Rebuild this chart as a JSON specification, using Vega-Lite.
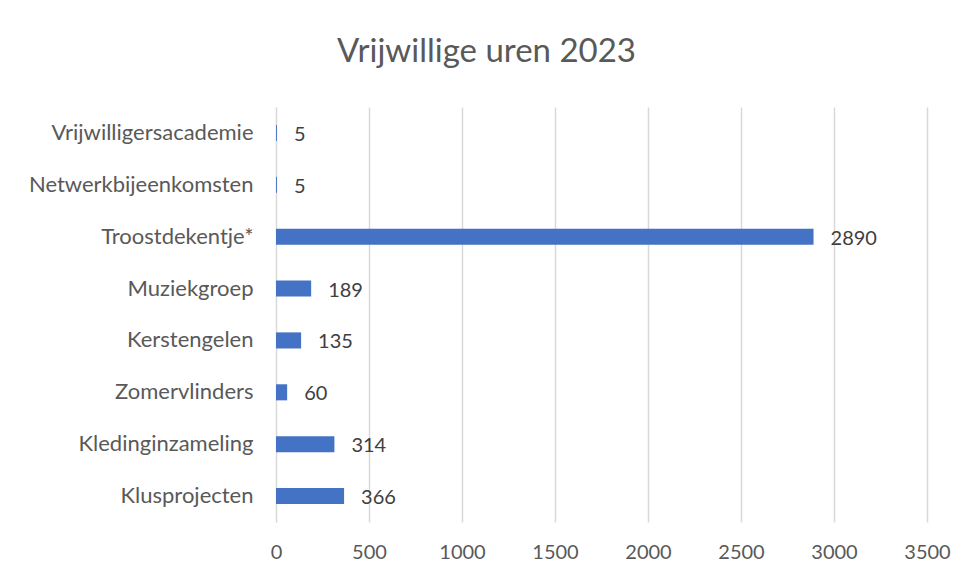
{
  "$schema": "https://vega.github.io/schema/vega-lite/v6.json",
  "autosize": {"type": "none"},
  "padding": {"left": 276, "top": 107, "right": 30, "bottom": 57},
  "width": 651,
  "height": 415,
  "background": "white",
  "title": {
    "text": "Vrijwillige uren 2023",
    "font": "Lato",
    "fontSize": 33,
    "fontWeight": "normal",
    "color": "#595959",
    "anchor": "middle",
    "dx": -115,
    "offset": 38
  },
  "data": {
    "values": [
      {"activiteit": "Vrijwilligersacademie", "uren": 5},
      {"activiteit": "Netwerkbijeenkomsten", "uren": 5},
      {"activiteit": "Troostdekentje*", "uren": 2890},
      {"activiteit": "Muziekgroep", "uren": 189},
      {"activiteit": "Kerstengelen", "uren": 135},
      {"activiteit": "Zomervlinders", "uren": 60},
      {"activiteit": "Kledinginzameling", "uren": 314},
      {"activiteit": "Klusprojecten", "uren": 366}
    ]
  },
  "encoding": {
    "y": {
      "field": "activiteit",
      "type": "nominal",
      "sort": null,
      "title": null,
      "scale": {"paddingInner": 0.69, "paddingOuter": 0.345},
      "axis": {
        "domainColor": "#d9d9d9",
        "domainWidth": 1,
        "ticks": false,
        "labelPadding": 23,
        "labelLimit": 300,
        "labelFont": "Lato",
        "labelFontSize": 22,
        "labelColor": "#595959",
        "grid": false
      }
    },
    "x": {
      "field": "uren",
      "type": "quantitative",
      "title": null,
      "scale": {"domain": [0, 3500], "nice": false},
      "axis": {
        "values": [0, 500, 1000, 1500, 2000, 2500, 3000, 3500],
        "format": "d",
        "domain": false,
        "ticks": false,
        "grid": true,
        "gridColor": "#d9d9d9",
        "gridWidth": 1.5,
        "labelPadding": 20,
        "labelFont": "Lato",
        "labelFontSize": 20,
        "labelColor": "#595959",
        "labelFlush": false
      }
    }
  },
  "layer": [
    {"mark": {"type": "bar", "color": "#4472C4"}},
    {
      "mark": {
        "type": "text",
        "align": "left",
        "baseline": "middle",
        "dx": 17,
        "dy": 2,
        "font": "Lato",
        "fontSize": 20,
        "color": "#404040"
      },
      "encoding": {"text": {"field": "uren", "type": "quantitative"}}
    }
  ],
  "config": {"view": {"stroke": null}}
}
